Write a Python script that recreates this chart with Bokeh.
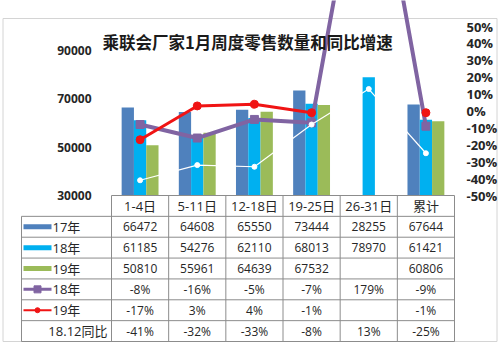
import numpy as np
from bokeh.plotting import figure
from bokeh.models import Range1d, LinearAxis, FixedTicker, CustomJSTickFormatter
from bokeh.core.properties import value
from bokeh.embed import file_html
from bokeh.resources import INLINE

# ---------------- data ----------------
categories = ["1-4日", "5-11日", "12-18日", "19-25日", "26-31日", "累计"]
sales_2017 = [66472, 64608, 65550, 73444, 28255, 67644]
sales_2018 = [61185, 54276, 62110, 68013, 78970, 61421]
sales_2019 = [50810, 55961, 64639, 67532, None, 60806]
growth_2018 = [-8, -16, -5, -7, 179, -9]
growth_2019 = [-17, 3, 4, -1, None, -1]
growth_vs_dec18 = [-41, -32, -33, -8, 13, -25]
left_ticks = [30000, 50000, 70000, 90000]
right_ticks = [-50, -40, -30, -20, -10, 0, 10, 20, 30, 40, 50]
row_labels = ["17年", "18年", "19年", "18年", "19年", "18.12同比"]
title_text = "乘联会厂家1月周度零售数量和同比增速"

# ---------------- layout constants ----------------
W, H = 498, 358
PLOT_LEFT = 111.0         # px of first category column edge
COL_W = 343.0 / 6         # px per category
AXIS_PX = 195.0           # px (from top) of the 30000 / -50% line
AXIS_SPAN = 169.0         # px from bottom to top of the value axis
LEFT_MIN, LEFT_MAX = 30000, 100000
PCT_MIN, PCT_MAX = -50, 50
ROW_H = 146.0 / 7.0

PX_PER_VAL = AXIS_SPAN / (LEFT_MAX - LEFT_MIN)
PX_PER_PCT = AXIS_SPAN / (PCT_MAX - PCT_MIN)

C17, C18, C19 = "#4f81bd", "#00b0f0", "#9bbb59"
PURPLE, RED = "#8064a2", "#f01414"
GRID = "#8c8c8c"
TXT = "#262626"
NUM_FONT = value("Open Sans, 'Noto Sans CJK SC'")
CJK_FONT = value("'Noto Sans CJK SC'")


def px_x(fx):
    return (fx - PLOT_LEFT) / COL_W


def px_y(fy):
    return LEFT_MIN + (AXIS_PX - fy) / PX_PER_VAL


x_range = Range1d(px_x(0), px_x(W))
y_range = Range1d(px_y(H), px_y(0))

p = figure(width=W, height=H, x_range=x_range, y_range=y_range,
           x_axis_type=None, y_axis_type=None,
           toolbar_location=None, output_backend="svg", min_border=0,
           outline_line_color=None, background_fill_color="white",
           border_fill_color="white")
p.extra_y_ranges = {"pct": Range1d(PCT_MIN - (H - AXIS_PX) / PX_PER_PCT,
                                   PCT_MAX + (AXIS_PX - AXIS_SPAN) / PX_PER_PCT)}

n = len(categories)
centers = np.arange(n) + 0.5

# ---------------- axes ----------------
yl = LinearAxis(ticker=FixedTicker(ticks=left_ticks), fixed_location=0,
                axis_line_color=None, major_tick_line_color=None,
                minor_tick_line_color=None, major_tick_out=0, major_tick_in=0,
                major_label_standoff=20, major_label_text_font_size="12px",
                major_label_text_font_style="bold",
                major_label_text_font="Open Sans", major_label_text_color=TXT)
p.add_layout(yl, "left")

yr = LinearAxis(y_range_name="pct", ticker=FixedTicker(ticks=right_ticks),
                formatter=CustomJSTickFormatter(code="return tick + '%';"),
                fixed_location=n,
                axis_line_color=None, major_tick_line_color=None,
                minor_tick_line_color=None, major_tick_out=0, major_tick_in=0,
                major_label_standoff=12, major_label_text_font_size="13px",
                major_label_text_font_style="bold",
                major_label_text_font="Open Sans", major_label_text_color=TXT)
p.add_layout(yr, "right")

# ---------------- outer border ----------------
p.quad(left=px_x(2.5), right=px_x(W - 1.5), top=px_y(18), bottom=px_y(341),
       fill_alpha=0, line_color="#d4d4d4", line_width=1)

# ---------------- bars ----------------
def visible(vals):
    return [v if (v is not None and v >= LEFT_MIN) else np.nan for v in vals]

BW = 0.215
for vals, off, col in [(sales_2017, -BW, C17), (sales_2018, 0.0, C18), (sales_2019, BW, C19)]:
    p.vbar(x=centers + off, top=visible(vals), bottom=LEFT_MIN, width=BW,
           fill_color=col, line_color=None)

# ---------------- lines ----------------
g18 = np.array(growth_2018, dtype=float)
g19 = np.array(growth_2019, dtype=float)
g12 = np.array(growth_vs_dec18, dtype=float)

p.line(centers, g18, y_range_name="pct", line_color=PURPLE, line_width=4)
p.scatter(centers, g18, y_range_name="pct", marker="square", size=8,
          fill_color=PURPLE, line_color=PURPLE)
p.line(centers, g19, y_range_name="pct", line_color=RED, line_width=3)
p.scatter(centers, g19, y_range_name="pct", marker="circle", size=8,
          fill_color=RED, line_color=RED)
p.line(centers, g12, y_range_name="pct", line_color="white", line_width=1.2)
p.scatter(centers, g12, y_range_name="pct", marker="circle", size=5,
          fill_color="white", line_color="white")

# ---------------- title ----------------
p.text(x=[px_x(102)], y=[px_y(41)], text=[title_text], text_align="left",
       text_baseline="middle", text_font=CJK_FONT, text_font_size="16.5px",
       text_font_style="bold", text_color="#1a1a1a")

# ---------------- data table ----------------
row_edges = [px_y(AXIS_PX + k * ROW_H) for k in range(8)]
row_mid = [px_y(AXIS_PX + (k + 0.5) * ROW_H) for k in range(7)]
lab_left = px_x(21)

# vertical lines
p.segment(x0=list(range(n + 1)), y0=[row_edges[0]] * (n + 1),
          x1=list(range(n + 1)), y1=[row_edges[7]] * (n + 1),
          line_color=GRID, line_width=1)
p.segment(x0=[lab_left], y0=[row_edges[1]], x1=[lab_left], y1=[row_edges[7]],
          line_color=GRID, line_width=1)
# horizontal lines
p.segment(x0=[0] + [lab_left] * 7, y0=row_edges,
          x1=[n] * 8, y1=row_edges, line_color=GRID, line_width=1)

# header
p.text(x=centers, y=[row_mid[0]] * n, text=categories, text_align="center",
       text_baseline="middle", text_font=NUM_FONT, text_font_size="13px",
       text_color=TXT)


def fmt_int(v):
    return "" if v is None else f"{v}"


def fmt_pct(v):
    return "" if v is None else f"{v}%"


table_rows = [(sales_2017, fmt_int), (sales_2018, fmt_int), (sales_2019, fmt_int),
              (growth_2018, fmt_pct), (growth_2019, fmt_pct), (growth_vs_dec18, fmt_pct)]
for r, (vals, fmt) in enumerate(table_rows, start=1):
    p.text(x=centers, y=[row_mid[r]] * n, text=[fmt(v) for v in vals],
           text_align="center", text_baseline="middle", text_font=NUM_FONT,
           text_font_size="12px", text_color=TXT)

# row legend keys
sw0, sw1 = px_x(23), px_x(51)
for r, col in zip([1, 2, 3], [C17, C18, C19]):
    p.segment(x0=[sw0], y0=[row_mid[r]], x1=[sw1], y1=[row_mid[r]],
              line_color=col, line_width=5)
p.segment(x0=[sw0], y0=[row_mid[4]], x1=[sw1], y1=[row_mid[4]],
          line_color=PURPLE, line_width=3)
p.scatter(x=[(sw0 + sw1) / 2], y=[row_mid[4]], marker="square", size=7,
          fill_color=PURPLE, line_color=PURPLE)
p.segment(x0=[sw0], y0=[row_mid[5]], x1=[sw1], y1=[row_mid[5]],
          line_color=RED, line_width=2)
p.scatter(x=[(sw0 + sw1) / 2], y=[row_mid[5]], marker="circle", size=5,
          fill_color=RED, line_color=RED)

p.text(x=[px_x(52)] * 5, y=row_mid[1:6], text=row_labels[:5], text_align="left",
       text_baseline="middle", text_font=NUM_FONT, text_font_size="13px",
       text_color=TXT)
p.text(x=[px_x(107)], y=[row_mid[6]], text=[row_labels[5]], text_align="right",
       text_baseline="middle", text_font=NUM_FONT, text_font_size="13px",
       text_color=TXT)

open("out.html", "w").write(file_html(p, INLINE))
